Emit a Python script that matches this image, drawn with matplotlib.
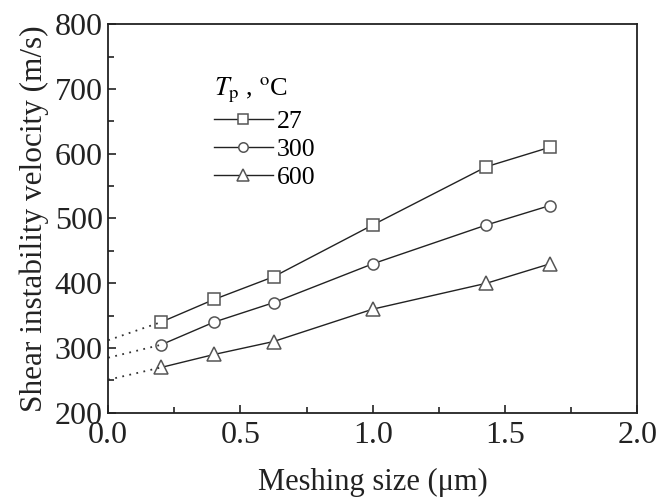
import matplotlib.pyplot as plt

plt.rcParams['font.family'] = ['Liberation Serif', 'DejaVu Serif']
plt.rcParams['mathtext.fontset'] = 'stix'

mesh = [0.2, 0.4, 0.625, 1.0, 1.43, 1.67]
v27 = [340, 375, 410, 490, 580, 610]
v300 = [305, 340, 370, 430, 490, 520]
v600 = [270, 290, 310, 360, 400, 430]
v_at_zero = [312, 285, 251]  # dotted extrapolation to 0
labels = ["27", "300", "600"]
markers = ["s", "o", "^"]

fig = plt.figure(figsize=(6.68, 5.04), dpi=100)
ax = fig.add_axes([0.162, 0.181, 0.792, 0.771])

for vals, v0, lab, m in zip([v27, v300, v600], v_at_zero, labels, markers):
    ax.plot(mesh, vals, color="#222222", lw=1.0, marker=m, ms=8 if m != "^" else 10,
            mfc="white", mec="#555555", mew=1.1, label=lab)
    ax.plot([0, mesh[0]], [v0, vals[0]], color="#333333", lw=1.3, ls=(0, (1, 3)))

ax.set_xlim(0, 2.0)
ax.set_ylim(200, 800)
ax.set_xticks([0, 0.5, 1.0, 1.5, 2.0])
ax.set_xticklabels(["0.0", "0.5", "1.0", "1.5", "2.0"])
ax.set_yticks(range(200, 801, 100))
ax.set_xticks([0.25, 0.75, 1.25, 1.75], minor=True)
ax.set_yticks(range(250, 800, 100), minor=True)
ax.tick_params(which="both", direction="in", top=False, right=False,
               labelsize=23, colors="#222222")
ax.tick_params(axis="x", pad=6)
ax.tick_params(axis="y", pad=4)
ax.tick_params(which="major", length=6, width=1.2)
ax.tick_params(which="minor", length=4, width=1.2)
for s in ax.spines.values():
    s.set_linewidth(1.3)
    s.set_color("#222222")

ax.set_xlabel("Meshing size (μm)", fontsize=22, labelpad=13, color="#222222")
ax.set_ylabel("Shear instability velocity (m/s)", fontsize=22.5, labelpad=4, color="#222222")

leg = ax.legend(title=r"$T_{\rm p}$ , $^{\rm o}$C", loc="upper left",
                bbox_to_anchor=(0.18, 0.895), frameon=False, fontsize=18.5,
                title_fontsize=19, handlelength=2.3, handletextpad=0.15,
                labelspacing=0.2, borderaxespad=0, markerscale=0.85)
leg._legend_box.align = "left"

fig.savefig("out.png", dpi=100)
